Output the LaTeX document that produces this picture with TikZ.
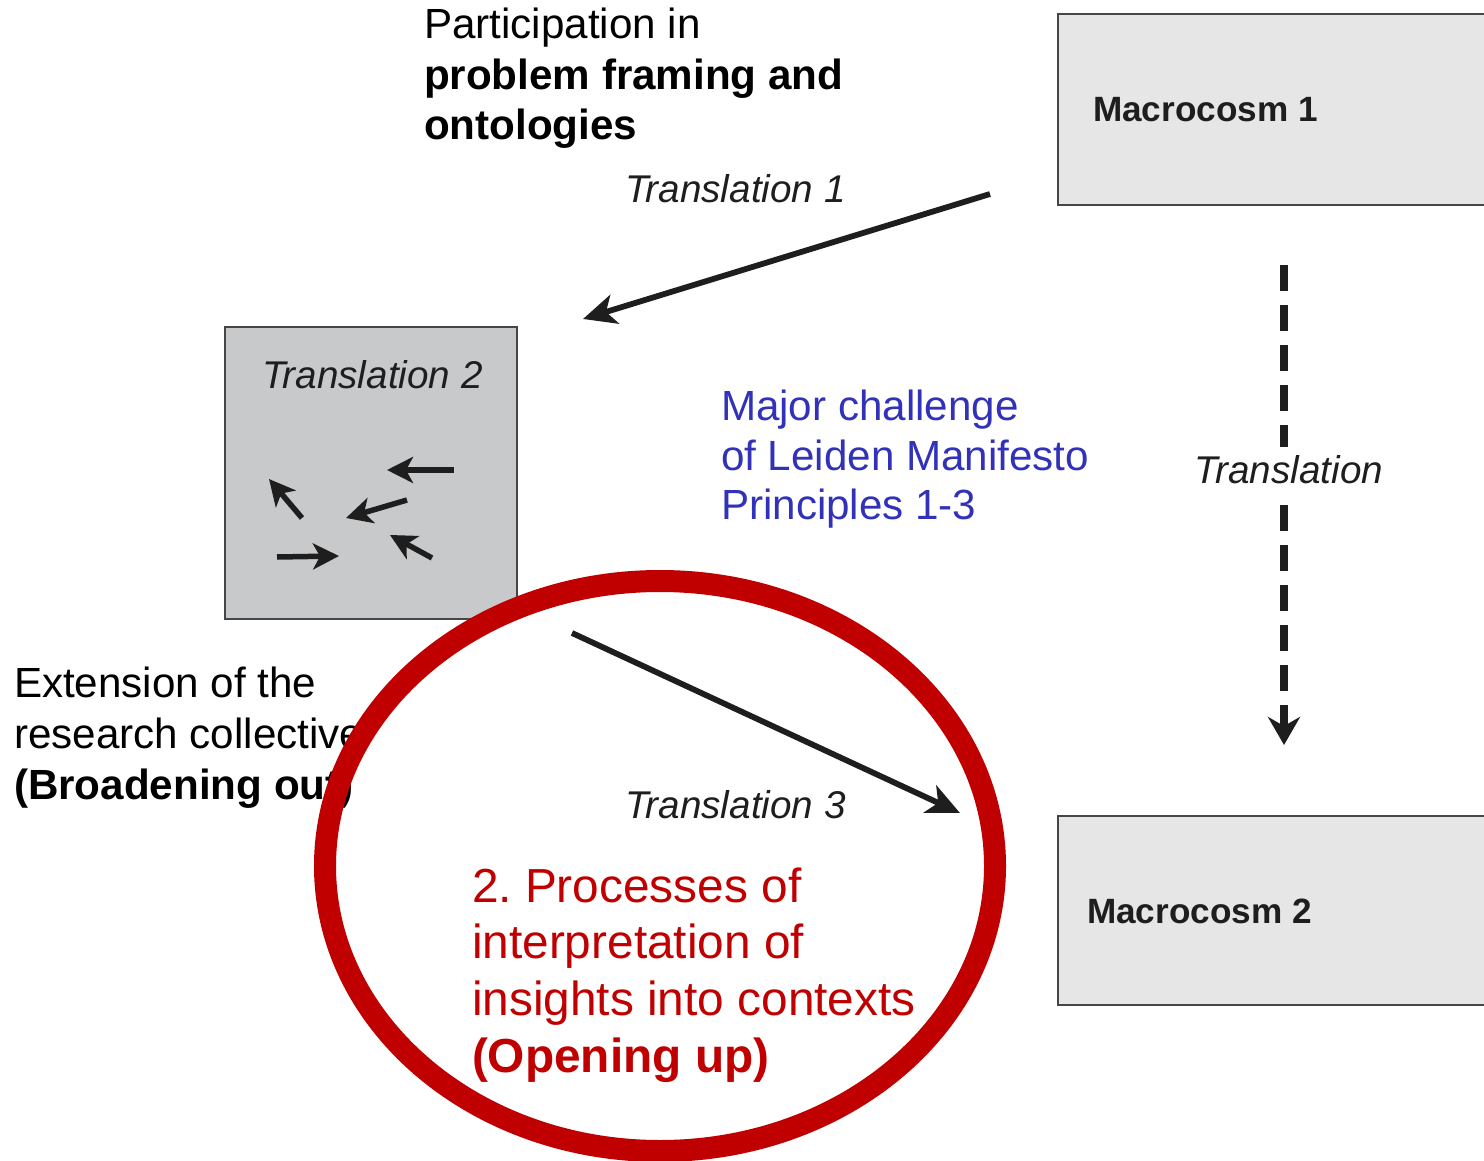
\documentclass[tikz,border=0pt]{standalone}
\usepackage{fontspec}
\setmainfont{Liberation Sans}
\usetikzlibrary{arrows.meta,calc}
\definecolor{boxline}{RGB}{70,70,70}
\definecolor{macfill}{RGB}{230,230,230}
\definecolor{trfill}{RGB}{200,201,203}
\definecolor{inkc}{RGB}{30,30,30}
\definecolor{bluec}{RGB}{50,50,185}
\definecolor{ringred}{RGB}{192,0,0}
\begin{document}
\frenchspacing
\begin{tikzpicture}[
  every node/.style={inner sep=0pt, outer sep=0pt},
  macbox/.style={draw=boxline, line width=0.02cm, fill=macfill, minimum width=4.6cm, anchor=north west},
  trbox/.style={draw=boxline, line width=0.02cm, fill=trfill, minimum width=2.92cm, minimum height=2.92cm, anchor=north west},
  maclabel/.style={anchor=base west, text=inkc, font=\fontsize{10pt}{12pt}\selectfont\bfseries},
  trlabel/.style={anchor=base west, text=inkc, font=\fontsize{11pt}{13pt}\selectfont\itshape},
  blacktext/.style={anchor=base west, align=left, text=black, font=\fontsize{12pt}{14.5pt}\selectfont},
  bluetext/.style={anchor=base west, align=left, text=bluec, font=\fontsize{12pt}{14.2pt}\selectfont},
  redtext/.style={anchor=base west, align=left, text=ringred, font=\fontsize{13.6pt}{16.1pt}\selectfont},
  bigarrow/.style={draw=inkc, line width=0.058cm, -{Stealth[length=0.33cm, width=0.3cm, inset=0.09cm]}},
  smallarrow/.style={draw=inkc, line width=0.055cm, -{Stealth[length=0.26cm, width=0.26cm, inset=0.07cm]}},
  dasharrow/.style={draw=inkc, line width=0.075cm, dash pattern=on 0.26cm off 0.14cm, -{Stealth[length=0.28cm, width=0.32cm, inset=0.09cm]}},
  ring/.style={draw=ringred, line width=0.22cm}
]
\useasboundingbox (0,0) rectangle (14.84,-11.61);
\clip (0,0) rectangle (14.84,-11.61);

% boxes
\node[macbox, minimum height=1.91cm] (mac1) at (10.58,-0.14) {};
\node[macbox, minimum height=1.89cm] (mac2) at (10.58,-8.16) {};
\node[trbox] (tr2) at (2.25,-3.27) {};

\node[maclabel] (mac1t) at (10.93,-1.22) {Macrocosm 1};
\node[maclabel] (mac2t) at (10.87,-9.23) {Macrocosm 2};
\node[trlabel] (tr2t) at (2.62,-3.88) {Translation 2};

% small arrows inside Translation 2 box
\draw[smallarrow] ($(tr2.north west)+(2.29,-1.43)$) -- ($(tr2.north west)+(1.62,-1.43)$);
\draw[smallarrow] ($(tr2.north west)+(1.82,-1.73)$) -- ($(tr2.north west)+(1.21,-1.91)$);
\draw[smallarrow] ($(tr2.north west)+(0.77,-1.91)$) -- ($(tr2.north west)+(0.44,-1.52)$);
\draw[smallarrow] ($(tr2.north west)+(0.52,-2.30)$) -- ($(tr2.north west)+(1.14,-2.29)$);
\draw[smallarrow] ($(tr2.north west)+(2.07,-2.31)$) -- ($(tr2.north west)+(1.65,-2.08)$);

% texts (anchor base = baseline of the last line)
\node[blacktext] (partic) at (4.24,-1.40) {Participation in\\\textbf{problem framing and}\\\textbf{ontologies}};
\node[blacktext] (extens) at (0.14,-7.99) {Extension of the\\research collective\\\textbf{(Broadening out)}};
\node[bluetext] (major) at (7.21,-5.20) {Major challenge\\of Leiden Manifesto\\Principles 1-3};
\node[trlabel] (tr1t) at (6.25,-2.03) {Translation 1};
\node[trlabel] (tr3t) at (6.25,-8.18) {Translation 3};

% red ring
\draw[ring] (6.60,-8.66) ellipse [x radius=3.35, y radius=2.85];

\node[redtext] (proc) at (4.72,-10.72) {2. Processes of\\interpretation of\\insights into contexts\\\textbf{(Opening up)}};

% connectors
\coordinate (t1s) at (9.90,-1.94);
\coordinate (t1e) at (5.83,-3.19);
\coordinate (t3s) at (5.72,-6.33);
\coordinate (t3e) at (9.60,-8.13);
\coordinate (dtop) at (12.84,-2.65);
\coordinate (dbot) at (12.84,-7.45);
\draw[bigarrow] (t1s) -- (t1e);
\draw[bigarrow] (t3s) -- (t3e);
\draw[dasharrow] (dtop) -- (dbot);
\node[trlabel, anchor=base, fill=white, inner xsep=0.05cm, inner ysep=0.08cm] (trd) at (12.89,-4.83) {Translation};
\end{tikzpicture}
\end{document}
